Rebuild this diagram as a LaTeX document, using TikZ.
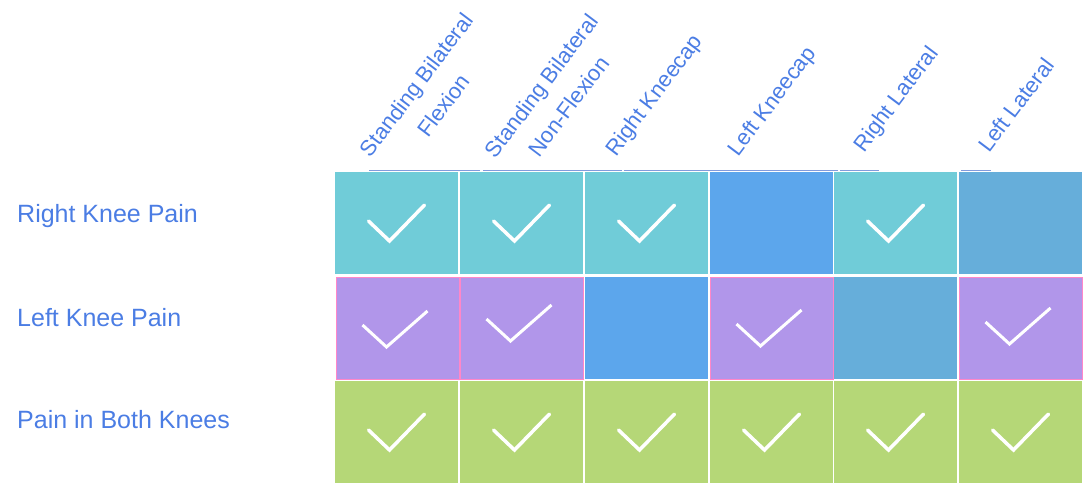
\documentclass[tikz,border=0pt]{standalone}
\usepackage{fontspec}
\setmainfont{Liberation Sans}
\usepackage{xcolor}
\usepackage{tikz}

\definecolor{tealcell}{RGB}{112,204,216}
\definecolor{bluecell}{RGB}{92,166,236}
\definecolor{steelcell}{RGB}{102,174,218}
\definecolor{purplecell}{RGB}{177,150,234}
\definecolor{greencell}{RGB}{181,215,119}
\definecolor{pinkedge}{RGB}{255,135,200}
\definecolor{labelblue}{RGB}{75,125,228}
\definecolor{ruleblue}{RGB}{130,155,220}

\begin{document}
\begin{tikzpicture}[x=1pt, y=-1pt,
  cell/.style={minimum width=123pt, minimum height=102pt, inner sep=0pt, outer sep=0pt, anchor=north west},
  checkline/.style={draw=white, line width=3.5pt, line cap=round},
  head/.style={rotate=53, align=center, text=labelblue, font=\fontsize{22}{34}\selectfont},
  rowlabel/.style={anchor=base west, inner sep=0pt, text=labelblue, font=\fontsize{25}{28}\selectfont},
  headrule/.style={draw=ruleblue, line width=1pt},
  checkmark/.pic={\draw[checkline] (-28,-2) -- (-7,18) -- (28,-18);},
  checkmarkb/.pic={\draw[checkline, line width=3pt, line cap=butt] (-35,-4) -- (-11,18) -- (30,-18);}]
\useasboundingbox (0,0) rectangle (1091,491);

% column heads
\node[head] (sbf) at (430,95) {Standing Bilateral\\Flexion};
\node[head] (sbn) at (555,96) {Standing Bilateral\\Non-Flexion};
\node[head] (rkc) at (655,96) {Right Kneecap};
\node[head] (lkc) at (773,102) {Left Kneecap};
\node[head] (rlt) at (897,100) {Right Lateral};
\node[head] (llt) at (1016,105) {Left Lateral};
\draw[headrule] (369,170.5) -- (480,170.5);
\draw[headrule] (483,170.5) -- (622,170.5);
\draw[headrule] (624,170.5) -- (838,170.5);
\draw[headrule] (840,170.5) -- (879,170.5);
\draw[headrule] (961,170.5) -- (991,170.5);

% row labels
\node[rowlabel] (right) at (17,222) {Right Knee Pain};
\node[rowlabel] (left) at (17,326) {Left Knee Pain};
\node[rowlabel] (both) at (17,428) {Pain in Both Knees};

% right knee row
\node[cell, fill=tealcell] (r1c1) at (335,172) {};
\node[cell, fill=tealcell] (r1c2) at (460,172) {};
\node[cell, fill=tealcell] (r1c3) at (585,172) {};
\node[cell, fill=bluecell] (r1c4) at (710,172) {};
\node[cell, fill=tealcell] (r1c5) at (834,172) {};
\node[cell, fill=steelcell] (r1c6) at (959,172) {};
\pic at (r1c1.center) {checkmark};
\pic at (r1c2.center) {checkmark};
\pic at (r1c3.center) {checkmark};
\pic at (r1c5.center) {checkmark};

% left knee row
\node[cell, fill=purplecell, draw=pinkedge, line width=1pt] (r2c1) at (336,277) {};
\node[cell, fill=purplecell, draw=pinkedge, line width=1pt] (r2c2) at (460,277) {};
\node[cell, fill=bluecell] (r2c3) at (585,277) {};
\node[cell, fill=purplecell, draw=pinkedge, line width=1pt] (r2c4) at (710,277) {};
\node[cell, fill=steelcell] (r2c5) at (834,277) {};
\node[cell, fill=purplecell, draw=pinkedge, line width=1pt] (r2c6) at (959,277) {};
\pic at ([yshift=-1pt]r2c1.center) {checkmarkb};
\pic at ([yshift=5pt]r2c2.center) {checkmarkb};
\pic at (r2c4.center) {checkmarkb};
\pic at ([yshift=2pt]r2c6.center) {checkmarkb};

% both knees row
\node[cell, fill=greencell] (r3c1) at (335,381) {};
\node[cell, fill=greencell] (r3c2) at (460,381) {};
\node[cell, fill=greencell] (r3c3) at (585,381) {};
\node[cell, fill=greencell] (r3c4) at (710,381) {};
\node[cell, fill=greencell] (r3c5) at (834,381) {};
\node[cell, fill=greencell] (r3c6) at (959,381) {};
\pic at (r3c1.center) {checkmark};
\pic at (r3c2.center) {checkmark};
\pic at (r3c3.center) {checkmark};
\pic at (r3c4.center) {checkmark};
\pic at (r3c5.center) {checkmark};
\pic at (r3c6.center) {checkmark};
\end{tikzpicture}
\end{document}
